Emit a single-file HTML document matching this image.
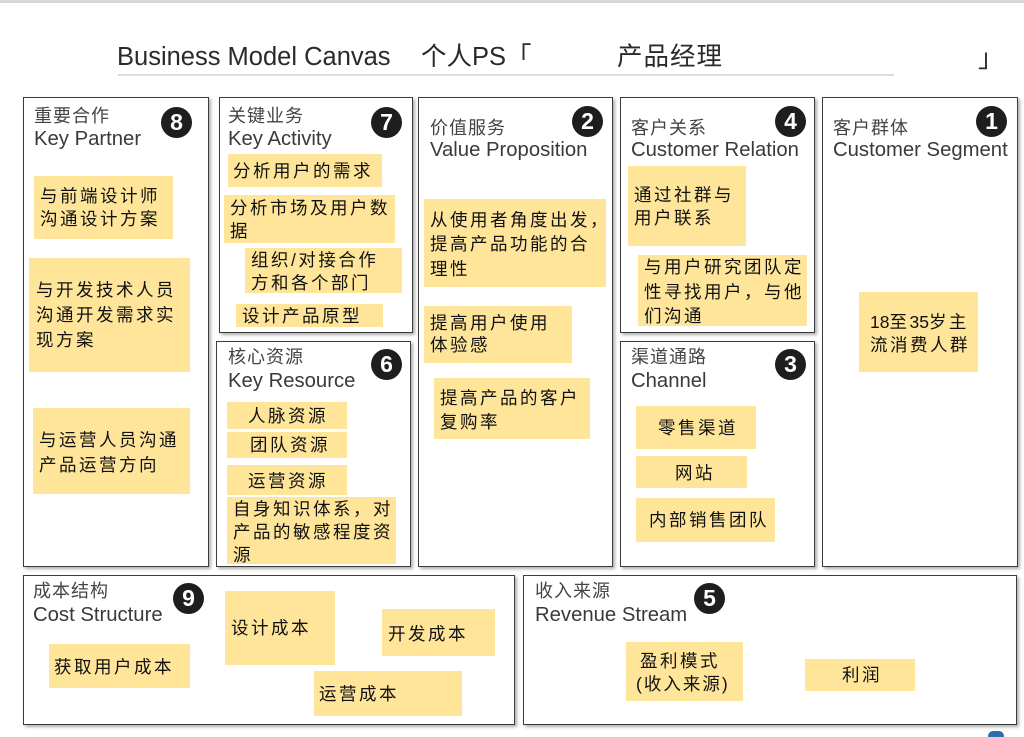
<!DOCTYPE html>
<html>
<head>
<meta charset="utf-8">
<style>
html,body{margin:0;padding:0;}
body{width:1024px;height:734px;position:relative;overflow:hidden;background:#fff;font-family:"Liberation Sans","Noto Sans CJK SC",sans-serif;}
.topline{position:absolute;left:0;top:0;width:1024px;height:3px;background:#d6d6d6;}
.title{position:absolute;font-size:25.5px;line-height:25px;color:#2a2a2a;white-space:pre;}
.ul{position:absolute;left:118px;top:74px;width:776px;height:2px;background:#dcdcdc;}
.box{position:absolute;box-sizing:border-box;border:1px solid #3c3c3c;background:#fff;box-shadow:2px 2px 3px rgba(0,0,0,0.32);}
.cn{position:absolute;font-size:18px;line-height:18px;letter-spacing:1px;color:#444;white-space:pre;}
.en{position:absolute;font-size:20.3px;line-height:20px;color:#3a3a3a;white-space:pre;}
.c{position:absolute;width:31px;height:31px;border-radius:50%;background:#1e1e1e;color:#fff;font-weight:bold;font-size:23px;line-height:31px;text-align:center;}
.n{position:absolute;background:#fee59a;}
.t{position:absolute;font-size:17.5px;letter-spacing:2.5px;color:#111;white-space:pre;}
.d{letter-spacing:0px;}
</style>
</head>
<body>
<div class="topline"></div>
<div class="title" style="left:117px;top:45px;">Business Model Canvas</div>
<div class="title" style="left:421px;top:45px;">个人PS「</div>
<div class="title" style="left:617px;top:45px;letter-spacing:1px;">产品经理</div>
<div class="title" style="left:978px;top:47px;">」</div>
<div class="ul"></div>

<!-- Boxes -->
<div class="box" style="left:23px;top:97px;width:186px;height:470px;"></div>
<div class="box" style="left:219px;top:97px;width:194px;height:236px;"></div>
<div class="box" style="left:216px;top:341px;width:195px;height:226px;"></div>
<div class="box" style="left:418px;top:97px;width:195px;height:470px;"></div>
<div class="box" style="left:620px;top:97px;width:195px;height:236px;"></div>
<div class="box" style="left:620px;top:341px;width:195px;height:226px;"></div>
<div class="box" style="left:822px;top:97px;width:196px;height:470px;"></div>
<div class="box" style="left:23px;top:575px;width:492px;height:150px;"></div>
<div class="box" style="left:523px;top:575px;width:494px;height:150px;"></div>

<!-- Headers -->
<div class="cn" style="left:34px;top:107px;">重要合作</div>
<div class="en" style="left:34px;top:129px;">Key Partner</div>
<div class="cn" style="left:228px;top:107px;">关键业务</div>
<div class="en" style="left:228px;top:129px;">Key Activity</div>
<div class="cn" style="left:430px;top:119px;">价值服务</div>
<div class="en" style="left:430px;top:140px;">Value Proposition</div>
<div class="cn" style="left:631px;top:119px;">客户关系</div>
<div class="en" style="left:631px;top:140px;">Customer Relation</div>
<div class="cn" style="left:833px;top:119px;">客户群体</div>
<div class="en" style="left:833px;top:140px;">Customer Segment</div>
<div class="cn" style="left:228px;top:348px;">核心资源</div>
<div class="en" style="left:228px;top:371px;">Key Resource</div>
<div class="cn" style="left:631px;top:348px;">渠道通路</div>
<div class="en" style="left:631px;top:371px;">Channel</div>
<div class="cn" style="left:33px;top:582px;">成本结构</div>
<div class="en" style="left:33px;top:605px;">Cost Structure</div>
<div class="cn" style="left:535px;top:582px;">收入来源</div>
<div class="en" style="left:535px;top:605px;">Revenue Stream</div>

<!-- Circles -->
<div class="c" style="left:161px;top:107px;">8</div>
<div class="c" style="left:371px;top:107px;">7</div>
<div class="c" style="left:572px;top:106px;">2</div>
<div class="c" style="left:775px;top:106px;">4</div>
<div class="c" style="left:976px;top:106px;">1</div>
<div class="c" style="left:371px;top:349px;">6</div>
<div class="c" style="left:775px;top:349px;">3</div>
<div class="c" style="left:173px;top:583px;">9</div>
<div class="c" style="left:694px;top:583px;">5</div>

<!-- Box 8 notes -->
<div class="n" style="left:34px;top:176px;width:139px;height:63px;"></div>
<div class="t" style="left:40px;top:185px;line-height:23.3px;">与前端设计师
沟通设计方案</div>
<div class="n" style="left:29px;top:258px;width:161px;height:114px;"></div>
<div class="t" style="left:36px;top:278px;line-height:25px;">与开发技术人员
沟通开发需求实
现方案</div>
<div class="n" style="left:33px;top:408px;width:157px;height:86px;"></div>
<div class="t" style="left:39px;top:428px;line-height:25px;">与运营人员沟通
产品运营方向</div>

<!-- Box 7 notes -->
<div class="n" style="left:228px;top:154px;width:154px;height:33px;"></div>
<div class="t" style="left:233px;top:159.5px;line-height:23px;">分析用户的需求</div>
<div class="n" style="left:224px;top:195px;width:171px;height:48px;"></div>
<div class="t" style="left:230px;top:196.5px;line-height:23.7px;">分析市场及用户数
据</div>
<div class="n" style="left:245px;top:248px;width:157px;height:45px;"></div>
<div class="t" style="left:251px;top:249px;line-height:22.7px;">组织/对接合作
方和各个部门</div>
<div class="n" style="left:236px;top:304px;width:147px;height:23px;"></div>
<div class="t" style="left:242px;top:304.5px;line-height:23px;">设计产品原型</div>

<!-- Box 2 notes -->
<div class="n" style="left:424px;top:199px;width:182px;height:88px;"></div>
<div class="t" style="left:430px;top:207.5px;line-height:24.5px;">从使用者角度出发，
提高产品功能的合
理性</div>
<div class="n" style="left:424px;top:306px;width:148px;height:57px;"></div>
<div class="t" style="left:430px;top:313px;line-height:21.7px;">提高用户使用
体验感</div>
<div class="n" style="left:434px;top:378px;width:156px;height:61px;"></div>
<div class="t" style="left:440px;top:385.5px;line-height:24px;">提高产品的客户
复购率</div>

<!-- Box 4 notes -->
<div class="n" style="left:628px;top:166px;width:118px;height:80px;"></div>
<div class="t" style="left:634px;top:184px;line-height:23.3px;">通过社群与
用户联系</div>
<div class="n" style="left:638px;top:255px;width:169px;height:71px;"></div>
<div class="t" style="left:644px;top:255px;line-height:24.7px;">与用户研究团队定
性寻找用户，与他
们沟通</div>

<!-- Box 1 note -->
<div class="n" style="left:859px;top:292px;width:119px;height:80px;"></div>
<div class="t" style="left:870px;top:310.5px;line-height:23.3px;"><span class="d">18</span>至<span class="d">35</span>岁主
流消费人群</div>

<!-- Box 6 notes -->
<div class="n" style="left:227px;top:402px;width:120px;height:27px;"></div>
<div class="t" style="left:248px;top:405px;line-height:23px;">人脉资源</div>
<div class="n" style="left:227px;top:432px;width:120px;height:26px;"></div>
<div class="t" style="left:250px;top:434px;line-height:23px;">团队资源</div>
<div class="n" style="left:227px;top:465px;width:120px;height:30px;"></div>
<div class="t" style="left:248px;top:469.5px;line-height:23px;">运营资源</div>
<div class="n" style="left:227px;top:497px;width:169px;height:67px;"></div>
<div class="t" style="left:233px;top:498px;line-height:23px;">自身知识体系，对
产品的敏感程度资
源</div>

<!-- Box 3 notes -->
<div class="n" style="left:636px;top:406px;width:120px;height:43px;"></div>
<div class="t" style="left:658px;top:417px;line-height:23px;">零售渠道</div>
<div class="n" style="left:636px;top:456px;width:111px;height:32px;"></div>
<div class="t" style="left:675px;top:461.5px;line-height:23px;">网站</div>
<div class="n" style="left:636px;top:498px;width:139px;height:44px;"></div>
<div class="t" style="left:649px;top:509px;line-height:23px;">内部销售团队</div>

<!-- Box 9 notes -->
<div class="n" style="left:49px;top:644px;width:141px;height:44px;"></div>
<div class="t" style="left:54px;top:655.5px;line-height:23px;">获取用户成本</div>
<div class="n" style="left:225px;top:591px;width:110px;height:74px;"></div>
<div class="t" style="left:231px;top:616.5px;line-height:23px;">设计成本</div>
<div class="n" style="left:382px;top:609px;width:113px;height:47px;"></div>
<div class="t" style="left:388px;top:623px;line-height:23px;">开发成本</div>
<div class="n" style="left:314px;top:671px;width:148px;height:45px;"></div>
<div class="t" style="left:319px;top:683px;line-height:23px;">运营成本</div>

<!-- Box 5 notes -->
<div class="n" style="left:626px;top:642px;width:117px;height:59px;"></div>
<div class="t" style="left:640px;top:649.5px;line-height:23px;">盈利模式</div>
<div class="t" style="left:636px;top:673px;line-height:23px;letter-spacing:2px;">(收入来源)</div>
<div class="n" style="left:805px;top:659px;width:110px;height:32px;"></div>
<div class="t" style="left:842px;top:664px;line-height:23px;">利润</div>

<!-- small blue icon bottom right -->
<div style="position:absolute;left:988px;top:731px;width:16px;height:6px;border-radius:5px 5px 0 0;background:#2f6db3;"></div>
</body>
</html>
